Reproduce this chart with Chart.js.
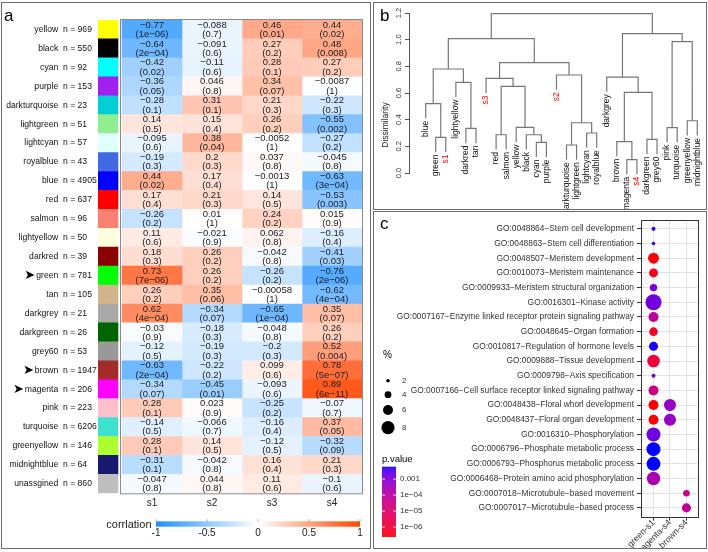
<!DOCTYPE html>
<html><head><meta charset="utf-8">
<script src="https://cdn.jsdelivr.net/npm/chart.js@4.4.1/dist/chart.umd.min.js"></script>
<style>
html,body{margin:0;padding:0;background:#fff;}
#page{position:relative;width:708px;height:552px;overflow:hidden;background:#fff;}
.box{position:absolute;box-sizing:border-box;border:1px solid #6b6b6b;}
canvas{position:absolute;}
</style></head><body>
<div id="page">
<div class="box" style="left:1px;top:2px;width:370px;height:547px"></div>
<div class="box" style="left:373px;top:2px;width:334px;height:208px"></div>
<div class="box" style="left:373px;top:211px;width:334px;height:338px"></div>
<canvas id="ca" width="370" height="550" style="left:0;top:0;width:370px;height:550px"></canvas>
<canvas id="cb" width="332" height="206" style="left:374px;top:3px;width:332px;height:206px"></canvas>
<canvas id="cc" width="332" height="336" style="left:374px;top:212px;width:332px;height:336px"></canvas>
</div>
<script>
// ---------------- Panel a data ----------------
const moduleNames = ['yellow','black','cyan','purple','darkturquoise','lightgreen','lightcyan','royalblue','blue','red','salmon','lightyellow','darkred','green','tan','darkgrey','darkgreen','grey60','brown','magenta','pink','turquoise','greenyellow','midnightblue','unassgined'];
const moduleSizes = [969,550,92,153,23,51,57,43,4905,637,96,50,39,781,105,21,26,53,1947,206,223,6206,146,64,860];
const moduleColors = ['#FFFF00','#000000','#00FFFF','#A020F0','#00CED1','#90EE90','#E0FFFF','#4169E1','#0000FF','#FF0000','#FA8072','#FFFFE0','#8B0000','#00FF00','#D2B48C','#A9A9A9','#006400','#999999','#A52A2A','#FF00FF','#FFC0CB','#40E0D0','#ADFF2F','#191970','#BEBEBE'];
const arrowModules = ['green','brown','magenta'];
const traitNames = ['s1','s2','s3','s4'];
const corrS1 = [-0.77,-0.64,-0.42,-0.36,-0.28,0.14,-0.095,-0.19,0.44,0.17,-0.26,0.11,0.18,0.73,0.26,0.62,-0.03,-0.12,-0.63,-0.34,0.28,-0.14,0.28,-0.31,-0.047];
const corrS2 = [-0.088,-0.091,-0.11,0.046,0.31,0.15,0.38,0.2,0.17,0.21,0.01,-0.021,0.26,0.26,0.35,-0.34,-0.18,-0.19,-0.22,-0.45,0.023,-0.066,0.14,-0.042,0.044];
const corrS3 = [0.46,0.27,0.28,0.34,0.21,0.26,-0.0052,0.037,-0.0013,0.14,0.24,0.062,-0.042,-0.26,-0.00058,-0.65,-0.048,-0.2,0.099,-0.093,-0.25,-0.16,-0.12,0.16,0.11];
const corrS4 = [0.44,0.48,0.27,-0.0087,-0.22,-0.55,-0.27,-0.045,-0.63,-0.53,0.015,-0.16,-0.41,-0.76,-0.62,0.35,0.26,0.52,0.78,0.89,-0.07,0.37,-0.32,0.21,-0.1];
const pS1 = [1e-6,2e-4,0.02,0.05,0.1,0.5,0.6,0.3,0.02,0.4,0.2,0.6,0.3,7e-6,0.2,4e-4,0.9,0.5,2e-4,0.07,0.1,0.5,0.1,0.1,0.8];
const pS2 = [0.7,0.6,0.6,0.8,0.1,0.4,0.04,0.3,0.4,0.3,1,0.9,0.2,0.2,0.06,0.07,0.3,0.3,0.2,0.01,0.9,0.7,0.5,0.8,0.8];
const pS3 = [0.01,0.2,0.1,0.07,0.3,0.2,1,0.8,1,0.5,0.2,0.8,0.8,0.2,1,1e-4,0.8,0.3,0.6,0.6,0.2,0.4,0.5,0.4,0.6];
const pS4 = [0.02,0.008,0.2,1,0.3,0.002,0.2,0.8,3e-4,0.003,0.9,0.4,0.03,2e-6,4e-4,0.07,0.2,0.004,5e-7,6e-11,0.7,0.05,0.09,0.3,0.6];
const corrTicks = [-1,-0.5,0,0.5,1];

// ---------------- Panel b data ----------------
const leafOrder = ['blue','green','s1','lightyellow','darkred','tan','s3','red','salmon','yellow','black','cyan','purple','s2','darkturquoise','lightgreen','lightcyan','royalblue','darkgrey','brown','magenta','s4','darkgreen','grey60','pink','turquoise','greenyellow','midnightblue'];
const mergeLeft  = ['green','blue','darkred','lightyellow',1,'red','cyan','black','yellow',5,'s3','darkturquoise','lightcyan',11,'s2',10,4,'magenta','brown','darkgreen',18,'darkgrey','pink','greenyellow',22,21,16];
const mergeRight = ['s1',0,'tan',2,3,'salmon','purple',6,7,8,9,'lightgreen','royalblue',12,13,14,15,'s4',17,'grey60',19,20,'turquoise','midnightblue',23,24,25];
const mergeHeight = [0.267,0.52,0.334,0.68,0.78,0.287,0.23,0.287,0.342,0.65,0.71,0.21,0.30,0.377,0.735,0.828,1.008,0.10,0.235,0.252,0.604,0.719,0.34,0.392,0.986,1.045,1.195];
const dissimTicks = [0,0.2,0.4,0.6,0.8,1.0,1.2];

// ---------------- Panel c data ----------------
const goTerms = ['GO:0048864\u2212Stem cell development','GO:0048863\u2212Stem cell differentiation','GO:0048507\u2212Meristem development','GO:0010073\u2212Meristem maintenance','GO:0009933\u2212Meristem structural organization','GO:0016301\u2212Kinase activity','GO:0007167\u2212Enzyme linked receptor protein signaling pathway','GO:0048645\u2212Organ formation','GO:0010817\u2212Regulation of hormone levels','GO:0009888\u2212Tissue development','GO:0009798\u2212Axis specification','GO:0007166\u2212Cell surface receptor linked signaling pathway','GO:0048438\u2212Floral whorl development','GO:0048437\u2212Floral organ development','GO:0016310\u2212Phosphorylation','GO:0006796\u2212Phosphate metabolic process','GO:0006793\u2212Phosphorus metabolic process','GO:0006468\u2212Protein amino acid phosphorylation','GO:0007018\u2212Microtubule\u2212based movement','GO:0007017\u2212Microtubule\u2212based process'];
const groupLabels = ['green-s1','magenta-s4','brown-s4'];
const dotTerm    = [0,1,2,3,4,5,6,7,8,9,10,11,12,13,14,15,16,17, 12,13, 18,19];
const dotGroup   = [0,0,0,0,0,0,0,0,0,0,0,0,0,0,0,0,0,0, 1,1, 2,2];
const dotPercent = [2.3,2.0,6.6,5.4,4.4,9.8,6.0,5.1,5.4,7.6,2.3,6.0,6.0,6.0,8.5,8.5,8.5,8.1, 7.3,7.3, 3.9,5.4];
const dotPvalue  = [3.6e-3,4.5e-3,2.8e-7,4.5e-7,1.4e-3,1.6e-3,1e-4,7e-7,5.6e-3,1.1e-6,1.3e-3,3.5e-5,2.5e-7,2.6e-7,1.7e-3,6e-3,6e-3,2.2e-4, 5.6e-4,5.4e-4, 4.4e-5,7e-5];
const sizeBreaks = [2,4,6,8];
const pBreaks = [1e-3,1e-4,1e-5,1e-6];

// ---------------- helpers ----------------
const FONT = '"Liberation Sans", Arial, Helvetica, sans-serif';
Chart.defaults.font.family = FONT;
const corrByTrait = [corrS1, corrS2, corrS3, corrS4];
const pByTrait = [pS1, pS2, pS3, pS4];
const LABEL_FONT_SIZE = 8.6, LABEL_PAD = 1.3;
function fmtR(v){ return String(v).replace('-', '\u2212'); }
function fmtP(p){
  if (p >= 0.001) return String(p);
  const e = Math.floor(Math.log10(p) + 1e-9);
  const m = Math.round(p / Math.pow(10, e));
  return m + 'e\u2212' + String(-e).padStart(2, '0');
}
// number left-aligned in a 4-digit field (two spaces = one digit width)
function moduleLabel(name, n){ return name + '  n = ' + n + '  '.repeat(4 - String(n).length); }
function corrColor(v){
  const a = Math.min(1, Math.abs(v));
  const c = v < 0 ? [30,144,255] : [255,69,0];
  return 'rgb(' + c.map(k => Math.round(255 + (k - 255) * a)).join(',') + ')';
}
function toLin(c){ c /= 255; return c <= 0.04045 ? c / 12.92 : Math.pow((c + 0.055) / 1.055, 2.4); }
function toSrgb(c){ c = c <= 0.0031308 ? 12.92 * c : 1.055 * Math.pow(c, 1 / 2.4) - 0.055; return Math.round(Math.min(1, Math.max(0, c)) * 255); }
const WX = 0.95047, WZ = 1.08883;
function rgb2lab(rgb){
  const r = toLin(rgb[0]), g = toLin(rgb[1]), b = toLin(rgb[2]);
  const X = (0.4124564*r + 0.3575761*g + 0.1804375*b) / WX;
  const Y = 0.2126729*r + 0.7151522*g + 0.0721750*b;
  const Z = (0.0193339*r + 0.1191920*g + 0.9503041*b) / WZ;
  const f = t => t > 0.008856 ? Math.cbrt(t) : 7.787 * t + 16 / 116;
  const fx = f(X), fy = f(Y), fz = f(Z);
  return [116*fy - 16, 500*(fx - fy), 200*(fy - fz)];
}
function lab2rgb(lab){
  const fy = (lab[0] + 16) / 116, fx = fy + lab[1] / 500, fz = fy - lab[2] / 200;
  const fi = t => (t*t*t > 0.008856) ? t*t*t : (t - 16/116) / 7.787;
  const X = fi(fx) * WX, Y = fi(fy), Z = fi(fz) * WZ;
  const r = 3.2404542*X - 1.5371385*Y - 0.4985314*Z;
  const g = -0.9692660*X + 1.8760108*Y + 0.0415560*Z;
  const b = 0.0556434*X - 0.2040259*Y + 1.0572252*Z;
  return 'rgb(' + toSrgb(r) + ',' + toSrgb(g) + ',' + toSrgb(b) + ')';
}
const LAB_LOW = rgb2lab([255,0,0]), LAB_HIGH = rgb2lab([0,0,255]);
const logPMin = Math.log10(Math.min(...dotPvalue)), logPMax = Math.log10(Math.max(...dotPvalue));
function pT(p){ return Math.min(1, Math.max(0, (Math.log10(p) - logPMin) / (logPMax - logPMin))); }
function pColor(p){ const t = pT(p); return lab2rgb(LAB_LOW.map((v, i) => v + (LAB_HIGH[i] - v) * t)); }
function pctRadius(pct){ return 0.8 * pct + 0.2; }

// ---------------- Panel a chart ----------------
const heatPlugin = {
  id: 'heatPlugin',
  afterDatasetsDraw(chart) {
    const ctx = chart.ctx, xs = chart.scales.x, ys = chart.scales.y, ca = chart.chartArea;
    ctx.save();
    ctx.font = '9.5px ' + FONT; ctx.fillStyle = '#222'; ctx.textAlign = 'center'; ctx.textBaseline = 'middle';
    traitNames.forEach((t, ci) => {
      chart.getDatasetMeta(ci + 1).data.forEach((el, j) => {
        const cx = (el.x + el.base) / 2, cy = el.y;
        ctx.fillText(fmtR(corrByTrait[ci][j]), cx, cy - 4.5);
        ctx.fillText('(' + fmtP(pByTrait[ci][j]) + ')', cx, cy + 4.8);
      });
    });
    // heatmap frame
    const x0 = xs.getPixelForValue(0);
    ctx.strokeStyle = '#8a8a8a'; ctx.lineWidth = 1;
    ctx.strokeRect(x0 - 1.5, ca.top - 0.5, ca.right - x0 + 2, ca.bottom - ca.top + 1);
    // arrows just before the highlighted module labels
    arrowModules.forEach(m => {
      const i = moduleNames.indexOf(m);
      ctx.font = LABEL_FONT_SIZE + 'px ' + FONT;
      const labelLeft = ys.right - LABEL_PAD - ctx.measureText(moduleLabel(m, moduleSizes[i])).width;
      ctx.fillStyle = '#000'; ctx.font = '13px "DejaVu Sans"'; ctx.textAlign = 'right';
      ctx.fillText('\u27A4', labelLeft - 1, ys.getPixelForValue(i));
    });
    // colour bar
    ctx.textAlign = 'center';
    const bx0 = 156, bx1 = 360, by0 = 521.3, bh = 5.4;
    const grd = ctx.createLinearGradient(bx0, 0, bx1, 0);
    grd.addColorStop(0, corrColor(-1)); grd.addColorStop(0.5, corrColor(0)); grd.addColorStop(1, corrColor(1));
    ctx.fillStyle = grd; ctx.fillRect(bx0, by0, bx1 - bx0, bh);
    ctx.strokeStyle = '#888'; ctx.lineWidth = 0.8;
    ctx.font = '10px ' + FONT; ctx.fillStyle = '#222'; ctx.textBaseline = 'middle';
    corrTicks.forEach(v => {
      const x = bx0 + (v + 1) / 2 * (bx1 - bx0);
      ctx.beginPath(); ctx.moveTo(x, by0 - 2); ctx.lineTo(x, by0); ctx.stroke();
      ctx.fillText(String(v), x, 533.5);
    });
    ctx.textAlign = 'right'; ctx.font = '11px ' + FONT;
    ctx.fillText('corrlation', 151.5, 524.5);
    // panel letter
    ctx.textAlign = 'left'; ctx.textBaseline = 'alphabetic'; ctx.font = '17px ' + FONT; ctx.fillStyle = '#000';
    ctx.fillText('a', 4, 20.5);
    ctx.restore();
  }
};
new Chart(document.getElementById('ca'), {
  type: 'bar',
  data: {
    labels: moduleNames.map((m, i) => moduleLabel(m, moduleSizes[i])),
    datasets: [
      { label: 'module', data: moduleNames.map(() => [-0.4, -0.067]), backgroundColor: moduleColors,
        grouped: false, borderWidth: 0, categoryPercentage: 1, barPercentage: 1 },
      ...traitNames.map((t, ci) => ({
        label: t, data: corrByTrait[ci].map(() => [ci, ci + 1]),
        backgroundColor: corrByTrait[ci].map(corrColor),
        grouped: false, borderWidth: 0, categoryPercentage: 1, barPercentage: 1 }))
    ]
  },
  options: {
    indexAxis: 'y', responsive: false, animation: false, events: [],
    layout: { padding: { top: 20, right: 8, bottom: 0, left: 0 } },
    plugins: { legend: { display: false }, tooltip: { enabled: false } },
    scales: {
      x: { type: 'linear', min: -0.4, max: 4, grid: { display: false, drawTicks: false }, border: { display: false },
        afterBuildTicks: s => { s.ticks = traitNames.map((_, i) => ({ value: i + 0.5 })); },
        ticks: { callback: v => traitNames[Math.round(v - 0.5)], font: { size: 10 }, color: '#222', padding: 4, autoSkip: false, maxRotation: 0 },
        afterFit: s => { s.height = 56.7; } },
      y: { type: 'category', grid: { display: false, drawTicks: false }, border: { display: false },
        ticks: { font: { size: LABEL_FONT_SIZE }, color: '#111', padding: LABEL_PAD, autoSkip: false },
        afterFit: s => { s.width = 98; } }
    }
  },
  plugins: [heatPlugin]
});

// ---------------- Panel b chart ----------------
const nodeX = [], nodeH = [], leafBottom = {}, dendroSegments = [];
const hang = 0.11;
mergeHeight.forEach((h, i) => {
  const ends = [mergeLeft[i], mergeRight[i]].map(ref => {
    if (typeof ref === 'string') { leafBottom[ref] = h - hang; return { x: leafOrder.indexOf(ref), y: h - hang }; }
    return { x: nodeX[ref], y: nodeH[ref] };
  });
  dendroSegments.push({ x: ends[0].x, y: ends[0].y }, { x: ends[0].x, y: h }, { x: ends[1].x, y: h }, { x: ends[1].x, y: ends[1].y }, { x: null, y: null });
  nodeX[i] = (ends[0].x + ends[1].x) / 2; nodeH[i] = h;
});
const dendroPlugin = {
  id: 'dendroPlugin',
  afterDraw(chart) {
    const ctx = chart.ctx, xs = chart.scales.x, ys = chart.scales.y;
    ctx.save();
    ctx.textBaseline = 'middle';
    ctx.font = '8.5px ' + FONT;
    leafOrder.forEach((name, i) => {
      ctx.save();
      ctx.translate(xs.getPixelForValue(i), ys.getPixelForValue(leafBottom[name]) + 2.5);
      ctx.rotate(-Math.PI / 2);
      ctx.textAlign = 'right';
      ctx.fillStyle = /^s\d$/.test(name) ? '#ff0000' : '#111';
      ctx.fillText(name, 0, 0);
      ctx.restore();
    });
    ctx.fillStyle = '#333'; ctx.font = '7.5px ' + FONT; ctx.textAlign = 'center';
    dissimTicks.forEach(v => {
      ctx.save(); ctx.translate(25, ys.getPixelForValue(v)); ctx.rotate(-Math.PI / 2);
      ctx.fillText(v.toFixed(1), 0, 0); ctx.restore();
    });
    ctx.font = '8.5px ' + FONT; ctx.fillStyle = '#222';
    ctx.save(); ctx.translate(12, 122); ctx.rotate(-Math.PI / 2); ctx.fillText('Dissimilarity', 0, 0); ctx.restore();
    ctx.textAlign = 'left'; ctx.textBaseline = 'alphabetic'; ctx.font = '17px ' + FONT; ctx.fillStyle = '#000';
    ctx.fillText('b', 6, 17.5);
    ctx.restore();
  }
};
new Chart(document.getElementById('cb'), {
  type: 'scatter',
  data: { datasets: [{ data: dendroSegments, showLine: true, borderColor: '#777', borderWidth: 1.2, pointRadius: 0, clip: false, spanGaps: false }] },
  options: {
    responsive: false, animation: false, events: [],
    layout: { padding: { top: 10, bottom: 36, left: 0, right: 3 } },
    plugins: { legend: { display: false }, tooltip: { enabled: false } },
    scales: {
      x: { type: 'linear', min: -1.66, max: 27.57, display: false },
      y: { type: 'linear', min: 0, max: 1.2,
        afterBuildTicks: s => { s.ticks = dissimTicks.map(v => ({ value: v })); },
        ticks: { display: false },
        grid: { drawOnChartArea: false, drawTicks: true, tickLength: 4, color: '#555', tickColor: '#555' },
        border: { display: true, color: '#555', width: 1 },
        afterFit: s => { s.width = 35; } }
    }
  },
  plugins: [dendroPlugin]
});

// ---------------- Panel c chart ----------------
const dotPlugin = {
  id: 'dotPlugin',
  afterDraw(chart) {
    const ctx = chart.ctx, ca = chart.chartArea;
    ctx.save();
    ctx.strokeStyle = '#333'; ctx.lineWidth = 1;
    ctx.strokeRect(Math.round(ca.left) + 0.5, Math.round(ca.top) + 0.5, Math.round(ca.right - ca.left), Math.round(ca.bottom - ca.top));
    // size legend
    ctx.fillStyle = '#000'; ctx.font = '10px ' + FONT; ctx.textBaseline = 'middle'; ctx.textAlign = 'left';
    ctx.fillText('%', 9, 143);
    const sy = [168.7, 182.7, 198, 215.7];
    sizeBreaks.forEach((b, i) => {
      ctx.fillStyle = '#000';
      ctx.beginPath(); ctx.arc(14, sy[i], pctRadius(b), 0, Math.PI * 2); ctx.fill();
      ctx.fillStyle = '#333'; ctx.font = '8px ' + FONT;
      ctx.fillText(String(b), 28, sy[i]);
    });
    // colour legend
    ctx.fillStyle = '#000'; ctx.font = '9.5px ' + FONT;
    ctx.fillText('p.value', 8, 247);
    const cx0 = 8, cw = 14, cy0 = 254.7, ch = 70;
    for (let k = 0; k < ch; k++) {
      const t = 1 - (k + 0.5) / ch;
      ctx.fillStyle = lab2rgb(LAB_LOW.map((v, i) => v + (LAB_HIGH[i] - v) * t));
      ctx.fillRect(cx0, cy0 + k, cw, 1.2);
    }
    ctx.font = '8px ' + FONT; ctx.fillStyle = '#333';
    pBreaks.forEach(p => {
      const y = cy0 + ch - pT(p) * ch;
      ctx.strokeStyle = '#fff'; ctx.lineWidth = 0.8;
      ctx.beginPath(); ctx.moveTo(cx0, y); ctx.lineTo(cx0 + 3, y); ctx.moveTo(cx0 + cw - 3, y); ctx.lineTo(cx0 + cw, y); ctx.stroke();
      ctx.fillText(fmtP(p), 26, y);
    });
    ctx.textBaseline = 'alphabetic'; ctx.font = '17px ' + FONT; ctx.fillStyle = '#000';
    ctx.fillText('c', 6, 17);
    ctx.restore();
  }
};
new Chart(document.getElementById('cc'), {
  type: 'bubble',
  data: { datasets: [{
    data: dotTerm.map((t, i) => ({ x: dotGroup[i], y: t, r: pctRadius(dotPercent[i]) })),
    backgroundColor: dotPvalue.map(pColor), borderWidth: 0, clip: false }] },
  options: {
    responsive: false, animation: false, events: [],
    layout: { padding: { top: 5.3, right: 6, bottom: 0, left: 0 } },
    plugins: { legend: { display: false }, tooltip: { enabled: false } },
    scales: {
      x: { type: 'linear', min: -0.76, max: 2.7,
        afterBuildTicks: s => { s.ticks = groupLabels.map((_, i) => ({ value: i })); },
        ticks: { callback: v => groupLabels[v], autoSkip: false, minRotation: 45, maxRotation: 45, font: { size: 8.8 }, color: '#333', padding: -3 },
        grid: { color: '#e2e2e2', lineWidth: 1, tickColor: '#333', tickLength: 4 }, border: { display: false },
        afterFit: s => { s.height = 31.3; } },
      y: { type: 'linear', reverse: true, min: -0.6, max: 19.6,
        afterBuildTicks: s => { s.ticks = goTerms.map((_, i) => ({ value: i })); },
        ticks: { callback: v => goTerms[v], autoSkip: false, font: { size: 8.4 }, color: '#333', padding: 3 },
        grid: { color: '#e2e2e2', lineWidth: 1, tickColor: '#333', tickLength: 4 }, border: { display: false },
        afterFit: s => { s.width = 267; } }
    }
  },
  plugins: [dotPlugin]
});
</script>
</body></html>
